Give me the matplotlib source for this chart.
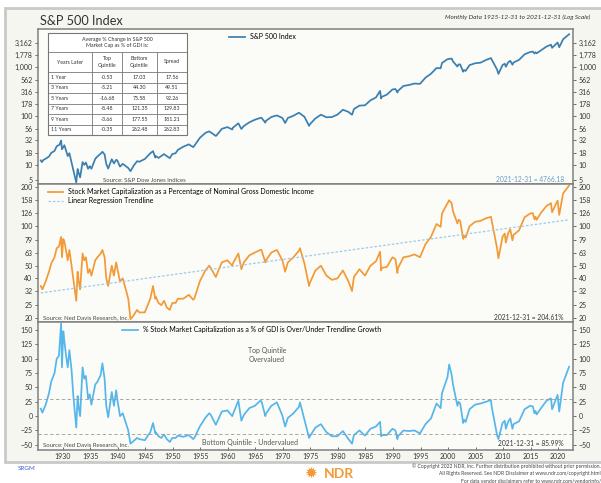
import matplotlib
matplotlib.use('Agg')
import matplotlib.pyplot as plt
from matplotlib.patches import Rectangle
from matplotlib.ticker import NullLocator

plt.rcParams['font.family'] = ['Lato', 'DejaVu Sans']

# S&P 500 Index (monthly data, sampled at year ends and turning points)
sp_dates = [1926.0, 1926.2, 1926.5, 1926.9, 1927.5, 1927.9, 1928.5, 1928.9, 1929.4, 1929.7,
            1929.85, 1930.3, 1930.9, 1931.2, 1931.9, 1932.45, 1932.7, 1932.9, 1933.15, 1933.6,
            1933.9, 1934.2, 1934.6, 1934.9, 1935.2, 1935.9, 1936.3, 1936.9, 1937.2, 1937.6,
            1937.9, 1938.25, 1938.9, 1939.3, 1939.7, 1939.9, 1940.4, 1940.9, 1941.9, 1942.3,
            1942.9, 1943.5, 1943.9, 1944.9, 1945.9, 1946.4, 1946.8, 1946.9, 1947.4, 1947.9,
            1948.4, 1948.9, 1949.45, 1949.9, 1950.5, 1950.9, 1951.9, 1952.9, 1953.7, 1953.9,
            1954.9, 1955.9, 1956.6, 1956.9, 1957.8, 1957.9, 1958.9, 1959.9, 1960.8, 1960.9,
            1961.9, 1962.45, 1962.9, 1963.9, 1964.9, 1965.9, 1966.1, 1966.8, 1966.9, 1967.9,
            1968.9, 1969.9, 1970.4, 1970.9, 1971.9, 1972.9, 1973.9, 1974.75, 1974.9, 1975.9,
            1976.9, 1977.9, 1978.9, 1979.9, 1980.9, 1981.9, 1982.55, 1982.9, 1983.9, 1984.9,
            1985.9, 1986.9, 1987.65, 1987.85, 1987.9, 1988.9, 1989.9, 1990.45, 1990.8, 1990.9,
            1991.9, 1992.9, 1993.9, 1994.9, 1995.9, 1996.9, 1997.9, 1998.65, 1998.9, 1999.9,
            2000.65, 2000.9, 2001.7, 2001.9, 2002.2, 2002.75, 2002.9, 2003.2, 2003.9, 2004.9,
            2005.9, 2006.9, 2007.8, 2007.9, 2008.9, 2009.15, 2009.9, 2010.3, 2010.5, 2010.9,
            2011.3, 2011.7, 2011.9, 2012.9, 2013.9, 2014.9, 2015.4, 2015.7, 2015.9, 2016.1,
            2016.9, 2017.9, 2018.7, 2018.9, 2019.9, 2020.2, 2020.9, 2021.99]
sp_values = [12.5, 11.5, 12.8, 13.5, 15.0, 17.7, 19.5, 24.4, 26.0, 31.9,
             21.0, 25.5, 15.3, 17.5, 8.1, 4.4, 8.3, 6.9, 5.6, 11.5,
             10.1, 11.3, 8.4, 9.5, 8.4, 13.4, 15.0, 17.2, 18.7, 16.5,
             10.6, 8.5, 13.2, 10.8, 12.8, 12.5, 9.3, 10.6, 8.7, 7.5,
             9.8, 12.0, 11.7, 13.3, 17.4, 19.3, 14.3, 15.3, 14.0, 15.3,
             16.8, 15.2, 13.9, 16.8, 17.5, 20.4, 23.8, 26.6, 23.3, 24.8,
             36.0, 45.5, 49.0, 46.7, 39.5, 40.0, 55.2, 59.9, 53.5, 58.1,
             71.6, 54.8, 63.1, 75.0, 84.8, 92.4, 93.0, 74.0, 80.3, 96.5,
             103.9, 92.1, 72.7, 92.2, 102.1, 118.1, 97.6, 63.5, 68.6, 90.2,
             107.5, 95.1, 96.1, 107.9, 135.8, 122.6, 107.0, 140.6, 164.9, 167.2,
             211.3, 242.2, 329.8, 230.0, 247.1, 277.7, 353.4, 360.0, 306.0, 330.2,
             417.1, 435.7, 466.5, 459.3, 615.9, 740.7, 970.4, 957.0, 1229.2, 1469.3,
             1517.0, 1320.3, 1040.0, 1148.1, 1147.0, 815.0, 879.8, 848.0, 1111.9, 1211.9,
             1248.3, 1418.3, 1549.0, 1468.4, 903.3, 735.0, 1115.1, 1187.0, 1030.0, 1257.6,
             1364.0, 1131.0, 1257.6, 1426.2, 1848.4, 2058.9, 2104.0, 1920.0, 2043.9, 1940.0,
             2238.8, 2673.6, 2914.0, 2506.9, 3230.8, 2585.0, 3756.1, 4766.18]

# Stock market capitalization as % of nominal GDI
cap_dates = [1926.0, 1926.3, 1926.9, 1927.5, 1927.9, 1928.5, 1928.9, 1929.3, 1929.7, 1929.85,
             1930.1, 1930.3, 1930.6, 1930.9, 1931.2, 1931.6, 1931.9, 1932.45, 1932.7, 1932.9,
             1933.15, 1933.6, 1933.9, 1934.2, 1934.6, 1934.9, 1935.2, 1935.9, 1936.3, 1936.9,
             1937.2, 1937.6, 1937.9, 1938.25, 1938.9, 1939.3, 1939.7, 1939.9, 1940.4, 1940.9,
             1941.9, 1942.3, 1942.9, 1943.5, 1943.9, 1944.9, 1945.9, 1946.4, 1946.8, 1946.9,
             1947.4, 1947.9, 1948.4, 1948.9, 1949.45, 1949.9, 1950.5, 1950.9, 1951.9, 1952.9,
             1953.7, 1953.9, 1954.9, 1955.9, 1956.6, 1956.9, 1957.8, 1957.9, 1958.9, 1959.9,
             1960.8, 1960.9, 1961.9, 1962.45, 1962.9, 1963.9, 1964.9, 1965.9, 1966.1, 1966.8,
             1966.9, 1967.9, 1968.9, 1969.9, 1970.4, 1970.9, 1971.9, 1972.9, 1973.1, 1973.9,
             1974.75, 1974.9, 1975.9, 1976.9, 1977.9, 1978.9, 1979.9, 1980.9, 1981.9, 1982.55,
             1982.9, 1983.9, 1984.9, 1985.9, 1986.9, 1987.65, 1987.85, 1987.9, 1988.9, 1989.9,
             1990.45, 1990.8, 1990.9, 1991.9, 1992.9, 1993.9, 1994.9, 1995.9, 1996.9, 1997.9,
             1998.65, 1998.9, 1999.9, 2000.2, 2000.65, 2000.9, 2001.7, 2001.9, 2002.2, 2002.75,
             2002.9, 2003.2, 2003.9, 2004.9, 2005.9, 2006.9, 2007.8, 2007.9, 2008.9, 2009.15,
             2009.9, 2010.3, 2010.5, 2010.9, 2011.3, 2011.7, 2011.9, 2012.9, 2013.9, 2014.9,
             2015.4, 2015.7, 2015.9, 2016.1, 2016.9, 2017.9, 2018.7, 2018.9, 2019.9, 2020.2,
             2020.9, 2021.99]
cap_values = [35, 33, 38, 45, 52, 58, 68, 70, 83, 58,
              80, 76, 65, 55, 66, 50, 40, 27, 45, 38,
              33, 62, 55, 58, 44, 47, 42, 55, 58, 62,
              66, 58, 40, 35, 50, 42, 53, 48, 38, 40,
              28, 19.5, 21, 23, 22, 22, 28, 35, 28, 29,
              26, 25, 27, 24, 23, 26, 26, 28, 28, 30,
              27.5, 28, 38, 46, 50, 48, 41, 42, 53, 55,
              50, 52, 62, 47, 53, 60, 63, 66, 66, 53,
              55, 63, 66, 55, 45, 53, 58, 65, 68, 52,
              35, 37, 46, 50, 42, 39, 40, 46, 38, 32,
              41, 47, 42, 50, 54, 64, 46, 48, 49, 58,
              56, 44, 48, 58, 59, 61, 58, 73, 83, 104,
              99, 125, 150, 158, 150, 130, 105, 112, 110, 80,
              85, 82, 100, 108, 110, 115, 118, 112, 68, 57,
              83, 88, 75, 88, 95, 78, 86, 93, 117, 125,
              126, 113, 118, 112, 127, 143, 150, 128, 157, 122,
              178, 204.61]

# linear regression trendline (log scale), end points
trend_dates = [1926.0, 2021.99]
trend_values = [31, 112]

# % over/under trendline growth
dev_dates = cap_dates
dev_values = [13, 6, 20, 40, 60, 75, 100, 105, 162, 85,
              148, 130, 105, 85, 115, 80, 38, -20, 35, 15,
              0, 85, 65, 70, 30, 38, 20, 55, 60, 72,
              92, 65, 18, -2, 42, 18, 45, 30, 0, 5,
              -25, -48, -43, -38, -40, -42, -28, -12, -30, -28,
              -35, -38, -32, -40, -45, -38, -38, -34, -36, -33,
              -40, -38, -18, -3, 5, 2, -15, -13, 8, 10,
              0, 3, 27, -8, 2, 14, 18, 27, 26, 0,
              4, 18, 24, 1, -18, -3, 5, 16, 24, -6,
              -38, -35, -20, -14, -28, -35, -35, -26, -40, -48,
              -33, -25, -34, -22, -18, -10, -35, -33, -33, -22,
              -25, -40, -35, -25, -26, -25, -30, -14, -4, 22,
              14, 40, 68, 90, 72, 55, 18, 25, 22, -12,
              -6, -10, 12, 20, 22, 25, 28, 18, -33, -40,
              -12, -8, -22, -10, -4, -22, -14, -9, 12, 18,
              17, 5, 9, 3, 14, 27, 31, 12, 37, 8,
              58, 85.99]
quintile_top = 29
quintile_bottom = -31

sp_ticks = [5, 10, 18, 32, 56, 100, 178, 316, 562, 1000, 1778, 3162]
cap_ticks = [20, 25, 32, 40, 50, 63, 79, 100, 126, 158, 200]
dev_ticks = [-50, -25, 0, 25, 50, 75, 100, 125, 150]
year_ticks = list(range(1930, 2021, 5))

table_title = ['Average % Change in S&P 500', 'Market Cap as % of GDI is:']
table_header = ['Years Later', 'Top\nQuintile', 'Bottom\nQuintile', 'Spread']
table_rows = [['1 Year', '-0.53', '17.03', '17.56'],
              ['3 Years', '-5.21', '44.30', '49.51'],
              ['5 Years', '-16.68', '75.58', '92.26'],
              ['7 Years', '-8.48', '121.35', '129.83'],
              ['9 Years', '-3.66', '177.55', '181.21'],
              ['11 Years', '-0.35', '262.48', '262.83']]

W, H = 601, 483
L, R = 38, 573
fig = plt.figure(figsize=(W / 100, H / 100), dpi=100)
fig.patch.set_facecolor('white')

# light framed background
bg = fig.add_axes([0, 0, 1, 1], zorder=0)
bg.set_xlim(0, W)
bg.set_ylim(H, 0)
bg.axis('off')
bg.add_patch(Rectangle((5, 8), 600, 454, facecolor='#f6f6f1', edgecolor='#c9c9c9', lw=2))


def panel(top, bottom):
    ax = fig.add_axes([L / W, 1 - bottom / H, (R - L) / W, (bottom - top) / H], zorder=2)
    ax.set_facecolor('#fbfbf8')
    for s in ax.spines.values():
        s.set_color('#808080')
        s.set_linewidth(1.1)
    ax.set_xlim(1925.5, 2022.7)
    ax.tick_params(axis='y', which='both', left=True, right=True, labelleft=True, labelright=True,
                   direction='out', length=2, width=0.5, labelsize=5, pad=2, colors='#333333')
    ax.tick_params(axis='x', which='both', bottom=False, labelbottom=False)
    return ax


# panel 1: S&P 500
ax1 = panel(29, 184)
ax1.set_yscale('log')
ax1.plot(sp_dates, sp_values, color='#3a7fb0', lw=1.25, label='S&P 500 Index')
ax1.set_ylim(4.1, 6100)
ax1.yaxis.set_minor_locator(NullLocator())
ax1.set_yticks(sp_ticks)
ax1.set_yticklabels([f'{t:,}' for t in sp_ticks])
ax1.legend(loc='upper left', bbox_to_anchor=(0.35, 1.0), frameon=False, fontsize=5,
           handlelength=2.2, borderaxespad=0.2)

# panel 2: market cap / GDI
ax2 = panel(184, 322)
ax2.set_yscale('log')
ax2.plot(cap_dates, cap_values, color='#f39a35', lw=1.25,
         label='Stock Market Capitalization as a Percentage of Nominal Gross Domestic Income')
ax2.plot(trend_dates, trend_values, color='#9ccbea', lw=0.9, ls=(0, (2, 1.5)),
         label='Linear Regression Trendline')
ax2.set_ylim(18.6, 210)
ax2.yaxis.set_minor_locator(NullLocator())
ax2.set_yticks(cap_ticks)
ax2.set_yticklabels([str(t) for t in cap_ticks])
ax2.legend(loc='upper left', bbox_to_anchor=(0.01, 1.0), frameon=False, fontsize=5,
           handlelength=2.2, borderaxespad=0.2, labelspacing=0.3)

# panel 3: over/under trendline
ax3 = panel(322, 450)
ax3.plot(dev_dates, dev_values, color='#55b6ec', lw=1.25,
         label='% Stock Market Capitalization as a % of GDI is Over/Under Trendline Growth')
ax3.axhline(quintile_top, color='#999999', lw=0.6, ls=(0, (4, 3)))
ax3.axhline(quintile_bottom, color='#999999', lw=0.6, ls=(0, (4, 3)))
ax3.set_ylim(-59, 164)
ax3.set_yticks(dev_ticks)
ax3.set_xticks(year_ticks)
ax3.tick_params(axis='x', which='both', bottom=True, labelbottom=True, direction='in',
                length=2, width=0.5, labelsize=5, pad=2, colors='#333333')
ax3.legend(loc='upper left', bbox_to_anchor=(0.15, 1.0), frameon=False, fontsize=5,
           handlelength=2.2, borderaxespad=0.2)

# overlay for text and table in pixel coordinates
ov = fig.add_axes([0, 0, 1, 1], zorder=5)
ov.set_xlim(0, W)
ov.set_ylim(H, 0)
ov.axis('off')

ov.text(40, 25, 'S&P 500 Index', fontsize=9.2, color='#333333', va='baseline')
ov.text(590, 19, 'Monthly Data 1925-12-31 to 2021-12-31 (Log Scale)', fontsize=4.6,
        style='italic', color='#333333', ha='right', va='baseline')

ov.text(144, 180, 'Source: S&P Dow Jones Indices', fontsize=4.3, color='#444444', ha='center', va='center')
ov.text(564, 179.5, '2021-12-31 = 4766.18', fontsize=4.8, color='#6a9cc4', ha='right', va='center')
ov.text(43, 318, 'Source: Ned Davis Research, Inc.', fontsize=4.3, color='#444444', va='center')
ov.text(564, 318, '2021-12-31 = 204.61%', fontsize=4.8, color='#333333', ha='right', va='center')
ov.text(43, 445, 'Source: Ned Davis Research, Inc.', fontsize=4.3, color='#444444', va='center')
ov.text(564, 444, '2021-12-31 = 85.99%', fontsize=4.8, color='#333333', ha='right', va='center')
ov.text(267, 355, 'Top Quintile\nOvervalued', fontsize=5, color='#555555', ha='center', va='center',
        linespacing=1.5)
ov.text(250, 443, 'Bottom Quintile - Undervalued', fontsize=5, color='#555555', ha='center', va='center')

# footer
ov.text(18, 469, 'SRGM', fontsize=4.5, color='#3b5bd6', va='center')
ov.text(317, 474, '\u2739', fontsize=11, color='#f39a35', ha='right', va='center')
ov.text(324, 474, 'NDR', fontsize=10, fontweight='bold', color='#f39a35', va='center')
foot = ['\u00a9 Copyright 2022 NDR, Inc. Further distribution prohibited without prior permission.',
        'All Rights Reserved. See NDR Disclaimer at www.ndr.com/copyright.html',
        'For data vendor disclaimers refer to www.ndr.com/vendorinfo/']
for i, line in enumerate(foot):
    ov.text(601, 466 + i * 7.5, line, fontsize=3.6, color='#444444', ha='right', va='center')

# statistics table
tx0, tx1 = 48, 187
ty0, ty1 = 33, 135
col_edges = [48, 92, 122, 157, 187]
row_edges = [72 + i * (ty1 - 72) / 6 for i in range(7)]
ov.add_patch(Rectangle((tx0, ty0), tx1 - tx0, ty1 - ty0, facecolor='white', edgecolor='#777777', lw=0.8))
ov.plot([tx0, tx1], [52, 52], color='#777777', lw=0.6)
for yv in row_edges[:-1]:
    ov.plot([tx0, tx1], [yv, yv], color='#777777', lw=0.6)
for xv in col_edges[1:-1]:
    ov.plot([xv, xv], [52, ty1], color='#777777', lw=0.6)
ov.text((tx0 + tx1) / 2, 42.5, '\n'.join(table_title), fontsize=3.8, color='#333333',
        ha='center', va='center', linespacing=1.4)
for j, h in enumerate(table_header):
    cx = (col_edges[j] + col_edges[j + 1]) / 2
    ov.text(cx, 62, h, fontsize=3.8, color='#333333', ha='center', va='center', linespacing=1.4)
for i, row in enumerate(table_rows):
    cy = (row_edges[i] + row_edges[i + 1]) / 2
    for j, val in enumerate(row):
        if j == 0:
            ov.text(col_edges[0] + 3, cy, val, fontsize=3.8, color='#333333', va='center')
        else:
            cx = (col_edges[j] + col_edges[j + 1]) / 2
            ov.text(cx, cy, val, fontsize=3.8, color='#333333', ha='center', va='center')

fig.savefig('out.png', dpi=100)
